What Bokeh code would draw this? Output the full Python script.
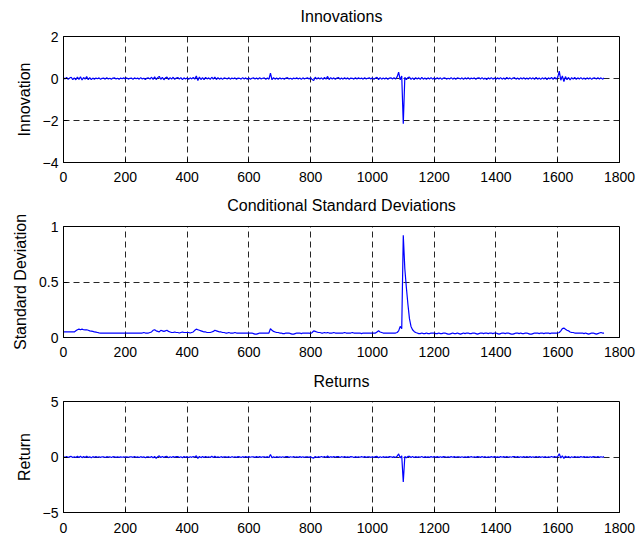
from bokeh.plotting import figure
from bokeh.layouts import column
from bokeh.models import FixedTicker, LinearAxis
from bokeh.embed import file_html
from bokeh.resources import INLINE

# ---------------- data ----------------
t = list(range(0, 1755, 5))  # observation index

innovations = (
    [0.03, -0.02, 0.05, -0.04, 0.02, 0.06, -0.05, 0.03, -0.06, 0.07, -0.04, 0.08, -0.07, 0.05, -0.03, 0.09, -0.06, 0.04, -0.05, 0.02]
    + [-0.03, 0.02, -0.01, 0.03, -0.04, 0.01, 0.02, -0.03, 0.04, -0.02, 0.01, -0.03, 0.02, 0.03, -0.02, 0.01, -0.04, 0.02, -0.01, 0.03]
    + [-0.02, 0.03, -0.03, 0.01, 0.02, -0.04, 0.03, -0.01, 0.02, -0.03, 0.04, -0.02, 0.01, -0.05, 0.02, 0.03, -0.03, 0.06, -0.04, 0.08]
    + [-0.05, 0.04, 0.10, -0.04, 0.05, -0.06, 0.03, 0.07, -0.05, 0.04, -0.03, 0.06, -0.04, 0.02, 0.05, -0.03, 0.04, -0.05, 0.03, -0.02]
    + [0.02, -0.04, 0.03, -0.02, 0.05, -0.03, 0.12, -0.10, 0.07, -0.05, 0.04, -0.06, 0.05, -0.02, 0.03, -0.04, 0.06, -0.03, 0.07, -0.05]
    + [0.04, -0.03, 0.02, -0.04, 0.03, 0.01, -0.02, 0.04, -0.03, 0.02, -0.01, 0.03, -0.04, 0.02, 0.01, -0.03, 0.04, -0.02, 0.03, -0.04]
    + [0.02, -0.03, 0.01, 0.03, -0.02, 0.02, -0.03, 0.04, -0.02, 0.01, 0.03, -0.04, 0.02, -0.03, 0.25, -0.06, 0.04, -0.03, 0.02, -0.04]
    + [0.03, -0.02, 0.01, -0.03, 0.02, 0.04, -0.02, 0.01, -0.03, 0.02, -0.01, 0.03, -0.02, 0.02, -0.04, 0.03, -0.02, 0.01, 0.03, -0.02]
    + [0.04, -0.05, -0.10, 0.06, -0.03, 0.04, -0.02, 0.03, -0.04, 0.05, -0.03, 0.10, -0.05, 0.04, -0.02, 0.03, -0.04, 0.02, 0.05, -0.03]
    + [0.02, -0.03, 0.04, -0.02, 0.03, -0.04, 0.02, 0.01, -0.03, 0.04, -0.02, 0.03, -0.01, 0.02, -0.03, 0.04, -0.02, 0.01, 0.03, -0.02]
    + [0.03, -0.04, 0.02, 0.06, -0.05, 0.04, -0.03, 0.02, -0.02, 0.03, -0.04, 0.02, 0.03, -0.02, 0.04, -0.03, 0.08, 0.30, -0.06, 0.12]
    + [-2.15, 0.06, -0.05, 0.04, 0.07, -0.04, 0.03, -0.05, 0.04, -0.02, 0.03, -0.04, 0.05, -0.03, 0.02, -0.04, 0.03, -0.02, 0.04, -0.03]
    + [0.02, -0.03, 0.04, -0.02, 0.03, -0.04, 0.02, 0.03, -0.03, 0.01, -0.02, 0.04, -0.03, 0.02, -0.04, 0.03, 0.01, -0.02, 0.03, -0.04]
    + [0.03, -0.02, 0.04, -0.03, 0.02, -0.01, 0.03, -0.04, 0.02, 0.03, -0.02, 0.04, -0.03, 0.02, -0.05, 0.03, -0.02, 0.04, -0.03, 0.02]
    + [-0.04, 0.03, -0.02, 0.04, -0.03, 0.02, -0.04, 0.05, -0.02, 0.03, -0.03, 0.02, 0.04, -0.03, 0.02, -0.04, 0.03, -0.02, 0.04, -0.03]
    + [0.02, -0.03, 0.04, -0.02, 0.03, -0.04, 0.05, -0.03, 0.02, -0.04, 0.03, -0.02, 0.04, -0.05, 0.03, -0.02, 0.05, -0.04, 0.06, -0.03]
    + [0.05, 0.35, -0.08, 0.12, -0.15, 0.09, -0.06, 0.05, -0.07, 0.04, -0.03, 0.05, -0.04, 0.03, -0.02, 0.04, -0.03, 0.02, -0.04, 0.03]
    + [-0.02, 0.03, -0.04, 0.02, 0.03, -0.03, 0.04, -0.02, 0.03, -0.03, 0.02]
)

cond_std = (
    [0.05, 0.05, 0.05, 0.05, 0.05, 0.05, 0.05, 0.05, 0.06, 0.07, 0.075, 0.07, 0.075, 0.07, 0.068, 0.07, 0.065, 0.06, 0.058, 0.055]
    + [0.05, 0.048, 0.045, 0.042, 0.04, 0.04, 0.04, 0.04, 0.04, 0.04, 0.04, 0.04, 0.04, 0.04, 0.04, 0.04, 0.04, 0.04, 0.04, 0.04]
    + [0.04, 0.04, 0.04, 0.04, 0.04, 0.04, 0.04, 0.04, 0.04, 0.04, 0.04, 0.04, 0.045, 0.04, 0.04, 0.04, 0.045, 0.05, 0.065, 0.07]
    + [0.06, 0.055, 0.05, 0.065, 0.06, 0.055, 0.06, 0.065, 0.055, 0.05, 0.045, 0.045, 0.05, 0.045, 0.045, 0.04, 0.045, 0.05, 0.045, 0.045]
    + [0.045, 0.045, 0.04, 0.045, 0.05, 0.065, 0.075, 0.07, 0.065, 0.06, 0.055, 0.05, 0.05, 0.045, 0.045, 0.045, 0.05, 0.055, 0.065, 0.06]
    + [0.055, 0.05, 0.05, 0.045, 0.045, 0.04, 0.04, 0.045, 0.04, 0.04, 0.04, 0.045, 0.04, 0.04, 0.04, 0.04, 0.04, 0.04, 0.04, 0.04]
    + [0.04, 0.04, 0.04, 0.035, 0.03, 0.03, 0.035, 0.04, 0.04, 0.04, 0.04, 0.04, 0.04, 0.04, 0.08, 0.065, 0.055, 0.05, 0.045, 0.045]
    + [0.04, 0.04, 0.035, 0.035, 0.04, 0.04, 0.04, 0.035, 0.03, 0.03, 0.035, 0.04, 0.04, 0.04, 0.035, 0.04, 0.04, 0.04, 0.04, 0.04]
    + [0.035, 0.045, 0.06, 0.055, 0.05, 0.045, 0.045, 0.04, 0.04, 0.045, 0.04, 0.045, 0.04, 0.04, 0.04, 0.045, 0.04, 0.04, 0.04, 0.04]
    + [0.04, 0.04, 0.045, 0.04, 0.04, 0.04, 0.04, 0.045, 0.04, 0.04, 0.04, 0.04, 0.04, 0.035, 0.04, 0.04, 0.04, 0.04, 0.04, 0.04]
    + [0.04, 0.04, 0.04, 0.05, 0.06, 0.05, 0.045, 0.04, 0.04, 0.04, 0.04, 0.04, 0.04, 0.04, 0.04, 0.04, 0.045, 0.06, 0.10, 0.08]
    + [0.92, 0.62, 0.45, 0.30, 0.17, 0.10, 0.07, 0.055, 0.045, 0.04, 0.035, 0.035, 0.04, 0.035, 0.035, 0.04, 0.035, 0.035, 0.04, 0.04]
    + [0.04, 0.035, 0.035, 0.04, 0.035, 0.035, 0.04, 0.04, 0.035, 0.03, 0.03, 0.035, 0.04, 0.035, 0.035, 0.04, 0.035, 0.03, 0.035, 0.04]
    + [0.035, 0.04, 0.04, 0.035, 0.035, 0.04, 0.04, 0.035, 0.03, 0.035, 0.04, 0.04, 0.035, 0.04, 0.04, 0.035, 0.04, 0.04, 0.035, 0.04]
    + [0.04, 0.035, 0.03, 0.035, 0.04, 0.04, 0.035, 0.04, 0.04, 0.035, 0.03, 0.03, 0.035, 0.04, 0.04, 0.035, 0.04, 0.035, 0.035, 0.04]
    + [0.04, 0.035, 0.03, 0.03, 0.035, 0.04, 0.04, 0.04, 0.035, 0.04, 0.04, 0.035, 0.04, 0.04, 0.04, 0.035, 0.04, 0.04, 0.04, 0.04]
    + [0.04, 0.045, 0.06, 0.08, 0.085, 0.075, 0.065, 0.06, 0.05, 0.045, 0.045, 0.04, 0.04, 0.04, 0.04, 0.04, 0.04, 0.035, 0.04, 0.035]
    + [0.03, 0.035, 0.04, 0.04, 0.035, 0.03, 0.035, 0.04, 0.045, 0.04, 0.04]
)

returns = (
    [0.02, -0.03, 0.04, -0.05, 0.03, 0.05, -0.04, 0.02, -0.05, 0.06, -0.05, 0.07, -0.06, 0.04, -0.04, 0.08, -0.05, 0.03, -0.06, 0.03]
    + [-0.02, 0.03, -0.02, 0.02, -0.03, 0.02, 0.01, -0.04, 0.03, -0.01, 0.02, -0.04, 0.03, 0.02, -0.03, 0.02, -0.03, 0.01, -0.02, 0.02]
    + [-0.03, 0.02, -0.02, 0.02, 0.01, -0.03, 0.04, -0.02, 0.01, -0.04, 0.03, -0.03, 0.02, -0.06, 0.01, 0.02, -0.04, 0.05, -0.08, 0.06]
    + [-0.12, 0.03, 0.11, -0.05, 0.04, -0.05, 0.04, 0.06, -0.06, 0.03, -0.04, 0.05, -0.03, 0.03, 0.04, -0.04, 0.03, -0.06, 0.04, -0.03]
    + [0.03, -0.05, 0.02, -0.03, 0.04, -0.02, 0.11, -0.12, 0.06, -0.06, 0.05, -0.05, 0.04, -0.03, 0.02, -0.05, 0.07, -0.04, 0.06, -0.04]
    + [0.03, -0.04, 0.03, -0.03, 0.02, 0.02, -0.03, 0.03, -0.04, 0.03, -0.02, 0.02, -0.03, 0.03, 0.02, -0.04, 0.03, -0.03, 0.04, -0.03]
    + [0.03, -0.02, 0.02, 0.02, -0.03, 0.03, -0.02, 0.03, -0.03, 0.02, 0.02, -0.03, 0.03, -0.04, 0.22, -0.07, 0.03, -0.04, 0.03, -0.03]
    + [0.02, -0.03, 0.02, -0.02, 0.03, 0.03, -0.03, 0.02, -0.02, 0.03, -0.02, 0.02, -0.03, 0.03, -0.03, 0.02, -0.03, 0.02, 0.02, -0.03]
    + [0.03, -0.06, -0.11, 0.05, -0.04, 0.03, -0.03, 0.04, -0.03, 0.04, -0.04, 0.09, -0.04, 0.03, -0.03, 0.04, -0.03, 0.03, 0.04, -0.04]
    + [0.03, -0.02, 0.03, -0.03, 0.02, -0.03, 0.03, 0.02, -0.04, 0.03, -0.03, 0.02, -0.02, 0.03, -0.02, 0.03, -0.03, 0.02, 0.02, -0.03]
    + [0.02, -0.03, 0.03, 0.05, -0.06, 0.03, -0.04, 0.03, -0.03, 0.02, -0.03, 0.03, 0.02, -0.03, 0.03, -0.04, 0.07, 0.28, -0.07, 0.10]
    + [-2.25, 0.05, -0.06, 0.05, 0.06, -0.05, 0.04, -0.04, 0.03, -0.03, 0.02, -0.03, 0.04, -0.04, 0.03, -0.03, 0.02, -0.03, 0.03, -0.02]
    + [0.03, -0.02, 0.03, -0.03, 0.02, -0.03, 0.03, 0.02, -0.02, 0.02, -0.03, 0.03, -0.02, 0.03, -0.03, 0.02, 0.02, -0.03, 0.02, -0.03]
    + [0.02, -0.03, 0.03, -0.02, 0.03, -0.02, 0.02, -0.03, 0.03, 0.02, -0.03, 0.03, -0.02, 0.03, -0.04, 0.02, -0.03, 0.03, -0.02, 0.03]
    + [-0.03, 0.02, -0.03, 0.03, -0.02, 0.03, -0.03, 0.04, -0.03, 0.02, -0.02, 0.03, 0.03, -0.02, 0.03, -0.03, 0.02, -0.03, 0.03, -0.02]
    + [0.03, -0.02, 0.03, -0.03, 0.02, -0.03, 0.04, -0.02, 0.03, -0.03, 0.02, -0.03, 0.03, -0.04, 0.02, -0.03, 0.04, -0.03, 0.05, -0.02]
    + [0.04, 0.30, -0.09, 0.10, -0.13, 0.08, -0.05, 0.04, -0.06, 0.03, -0.04, 0.04, -0.03, 0.02, -0.03, 0.03, -0.02, 0.03, -0.03, 0.02]
    + [-0.03, 0.02, -0.03, 0.03, 0.02, -0.02, 0.03, -0.03, 0.02, -0.02, 0.03]
)

titles = ["Innovations", "Conditional Standard Deviations", "Returns"]
y_labels = ["Innovation", "Standard Deviation", "Return"]
x_ticks = [0, 200, 400, 600, 800, 1000, 1200, 1400, 1600, 1800]
inn_ticks = [-4, -2, 0, 2]
std_ticks = [0, 0.5, 1]
std_tick_labels = {0: "0", 0.5: "0.5", 1: "1"}
ret_ticks = [-5, 0, 5]

FONT = "Liberation Sans"


def panel(title, ylabel, y, y_lo, y_hi, yticks, height, border_top, border_bottom,
          x_standoff, title_gap, y_overrides=None):
    p = figure(width=637, height=height, output_backend="svg", toolbar_location=None,
               x_range=(0, 1800), y_range=(y_lo, y_hi),
               min_border_left=63, min_border_right=18,
               min_border_top=border_top, min_border_bottom=border_bottom,
               background_fill_color="white", border_fill_color="white")
    p.line(t, y, line_color="#0000FF", line_width=1.2)

    bottom_axis = p.below[0]
    left_axis = p.left[0]

    # title drawn as the label of a tick-less axis above the frame
    top = LinearAxis(axis_label=title, ticker=FixedTicker(ticks=[]),
                     axis_line_color=None, major_tick_line_color=None,
                     minor_tick_line_color=None,
                     axis_label_standoff=title_gap,
                     axis_label_text_font=FONT,
                     axis_label_text_font_size="16px",
                     axis_label_text_font_style="normal",
                     axis_label_text_color="black")
    p.add_layout(top, "above")

    p.outline_line_color = "black"
    p.outline_line_width = 1
    p.outline_line_alpha = 1

    for ax in (bottom_axis, left_axis):
        ax.axis_line_color = "black"
        ax.major_tick_line_color = "black"
        ax.major_tick_in = 4
        ax.major_tick_out = 0
        ax.minor_tick_line_color = None
        ax.major_label_text_font = FONT
        ax.major_label_text_font_size = "14px"
        ax.major_label_text_color = "black"
    bottom_axis.ticker = FixedTicker(ticks=x_ticks)
    bottom_axis.major_label_standoff = x_standoff
    left_axis.ticker = FixedTicker(ticks=yticks)
    left_axis.major_label_standoff = 5
    if y_overrides:
        left_axis.major_label_overrides = y_overrides

    left_axis.axis_label = ylabel
    left_axis.axis_label_text_font = FONT
    left_axis.axis_label_text_font_size = "16px"
    left_axis.axis_label_text_font_style = "normal"
    left_axis.axis_label_text_color = "black"
    left_axis.axis_label_standoff = 7

    p.xgrid.ticker = FixedTicker(ticks=x_ticks)
    p.ygrid.ticker = FixedTicker(ticks=yticks)
    for g in (p.xgrid, p.ygrid):
        g.grid_line_color = "black"
        g.grid_line_width = 1
        g.grid_line_dash = "6 4"
        g.grid_line_alpha = 0.85
    return p


p1 = panel(titles[0], y_labels[0], innovations, -4, 2, inn_ticks,
           190, 36, 28, 9, 12)
p2 = panel(titles[1], y_labels[1], cond_std, 0, 1,
           std_ticks, 175, 36, 28, 9, 13, std_tick_labels)
p3 = panel(titles[2], y_labels[2], returns, -5, 5, ret_ticks,
           174, 36, 27, 10, 12)

layout = column(p1, p2, p3, spacing=0)

open("out.html", "w").write(file_html(layout, INLINE))
